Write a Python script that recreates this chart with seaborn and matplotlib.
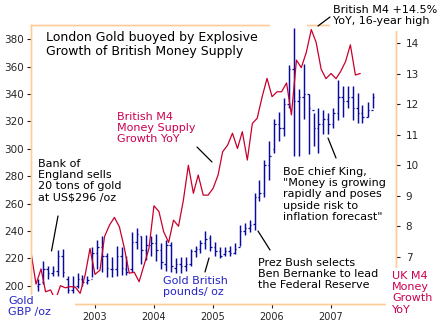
import numpy as np
import pandas as pd
import matplotlib
matplotlib.use("Agg")
import matplotlib.pyplot as plt
import matplotlib.dates as mdates
from matplotlib.patches import Rectangle
from matplotlib.lines import Line2D
import seaborn as sns

# ---------------- data ----------------
# UK M4 money supply growth, % YoY, monthly from Dec 2001
m4_start = "2001-12-01"
m4_growth = [7.14, 6.10, 6.60, 5.85, 5.91, 5.58, 6.05, 5.98, 6.02, 6.00, 5.80, 6.40,
             7.27, 6.42, 6.56, 7.66, 8.04, 8.29, 7.98, 7.30, 6.46, 6.49, 6.18, 6.73,
             7.27, 8.67, 8.48, 7.82, 7.47, 8.20, 8.00, 8.85, 10.00, 9.08, 9.68, 9.02,
             9.02, 9.24, 9.68, 10.44, 10.66, 11.05, 10.55, 11.10, 10.17, 11.37, 11.54, 12.25,
             12.85, 12.25, 12.41, 12.41, 12.70, 11.65, 13.45, 13.20, 13.70, 14.45, 14.03, 13.15,
             12.84, 13.01, 12.84, 13.07, 13.40, 13.95, 12.96, 13.01]

# Gold in British pounds per oz, monthly OHLC from Jan 2002
gold_start = "2002-01-01"
gold_open = [200, 203, 212, 209, 211, 222, 205, 197, 200, 205, 203, 205,
             224, 228, 222, 212, 212, 222, 212, 212, 232, 236, 226, 230,
             231, 226, 216, 230, 213, 216, 214, 216, 225, 227, 231, 235,
             228, 225, 223, 225, 224, 228, 240, 242, 245, 265, 268, 288,
             300, 318, 315, 333, 358, 335, 338, 340, 328, 315, 318, 322,
             318, 326, 338, 335, 338, 330, 326, 323, 328]
gold_high = [205, 218, 214, 214, 226, 227, 207, 207, 209, 208, 207, 228,
             233, 236, 224, 221, 229, 228, 222, 239, 242, 236, 237, 236,
             238, 231, 233, 232, 220, 221, 221, 227, 229, 233, 240, 237,
             232, 228, 228, 229, 231, 244, 246, 248, 268, 277, 292, 306,
             322, 327, 337, 361, 388, 344, 362, 340, 326, 330, 328, 326,
             330, 350, 346, 346, 346, 341, 332, 334, 341]
gold_low = [196, 201, 205, 207, 207, 206, 195, 195, 198, 200, 201, 206,
            212, 210, 206, 206, 207, 208, 208, 210, 227, 216, 219, 222,
            218, 212, 211, 210, 209, 209, 211, 214, 221, 224, 227, 225,
            222, 220, 222, 222, 223, 229, 237, 239, 241, 262, 265, 277,
            297, 306, 309, 330, 295, 295, 322, 296, 302, 297, 311, 311,
            315, 321, 323, 330, 321, 319, 319, 323, 330]
gold_close = [201, 212, 209, 211, 222, 210, 197, 200, 205, 203, 204, 224,
              228, 222, 213, 212, 222, 213, 210, 232, 238, 226, 230, 231,
              226, 217, 230, 214, 216, 214, 216, 225, 227, 231, 234, 228,
              225, 222, 225, 224, 227, 240, 242, 244, 265, 268, 288, 295,
              318, 315, 333, 358, 335, 338, 340, 330, 315, 318, 322, 318,
              326, 338, 335, 338, 330, 326, 323, 328, 338]

year_ticks = ["2003", "2004", "2005", "2006", "2007"]
left_ticks = [200, 220, 240, 260, 280, 300, 320, 340, 360, 380]
right_ticks = [7, 8, 9, 10, 11, 12, 13, 14]

# ---------------- style ----------------
sns.set_style("white")
plt.rcParams["font.family"] = ["DejaVu Sans"]

W, H = 440, 335
BLUE = "#0a0a9e"
RED = "#c8002d"
MAG = "#cc0050"
BLUE_TXT = "#2424c8"
SPINE = "#ffcc99"

fig = plt.figure(figsize=(W / 100, H / 100), dpi=100)
fig.patch.set_facecolor("white")
ax = fig.add_axes([31 / W, 1 - 304 / H, 365 / W, 279 / H])
ax2 = ax.twinx()

m4_x = mdates.date2num(pd.date_range(m4_start, periods=len(m4_growth), freq="MS"))
g_dates = pd.date_range(gold_start, periods=len(gold_open), freq="MS") + pd.Timedelta(days=14)
g_x = mdates.date2num(g_dates)
tick_len = 10

# gold OHLC bars
ax.vlines(g_x, gold_low, gold_high, color=BLUE, linewidth=1.05)
ax.hlines(gold_open, g_x - tick_len, g_x, color=BLUE, linewidth=0.9)
ax.hlines(gold_close, g_x, g_x + tick_len, color=BLUE, linewidth=0.9)

# M4 growth line
df_m4 = pd.DataFrame({"x": m4_x, "m4": m4_growth})
sns.lineplot(data=df_m4, x="x", y="m4", ax=ax2, color=RED, linewidth=0.9)
ax2.set_xlabel("")
ax2.set_ylabel("")

# axes limits & ticks
x2003 = mdates.date2num(pd.Timestamp("2003-01-01"))
x2007 = mdates.date2num(pd.Timestamp("2007-01-01"))
ppd = (331 - 95) / (x2007 - x2003)
ax.set_xlim(x2003 - 64 / ppd, x2007 + 65 / ppd)
ax.set_ylim(186.6, 390.45)
ax2.set_ylim(5.449, 14.60)

ax.set_xticks([mdates.date2num(pd.Timestamp(y + "-01-01")) for y in year_ticks])
ax.set_xticklabels(year_ticks)
ax.set_yticks(left_ticks)
ax.set_yticklabels([str(v) for v in left_ticks])
ax2.set_yticks(right_ticks)
ax2.set_yticklabels([str(v) for v in right_ticks])

ax.tick_params(axis="x", direction="out", length=3, width=0.8, color="#222222",
               labelsize=7, pad=3, bottom=True)
ax.tick_params(axis="y", direction="out", length=3, width=0.8, color="#222222",
               labelsize=7.5, pad=2, left=True, right=False)
ax2.tick_params(axis="y", direction="out", length=3, width=0.8, color="#222222",
                labelsize=7.5, pad=4, right=True, left=False)

for a in (ax, ax2):
    for s in a.spines.values():
        s.set_color(SPINE)
        s.set_linewidth(1.0)
ax.set_facecolor("none")
ax2.set_facecolor("none")


def px(x, y):
    return x / W, 1 - y / H


def white_box(x0, y0, x1, y1):
    fig.patches.append(Rectangle(px(x0, y1), (x1 - x0) / W, (y1 - y0) / H,
                                 transform=fig.transFigure, facecolor="white",
                                 edgecolor="none", zorder=1))


def leader(x0, y0, x1, y1):
    fig.lines.append(Line2D([x0 / W, x1 / W], [1 - y0 / H, 1 - y1 / H],
                            transform=fig.transFigure, color="black",
                            linewidth=0.9, zorder=2))


# white boxes behind corner labels
white_box(0, 295, 75, 335)
white_box(386, 268, 440, 335)
white_box(330, 0, 440, 31)
white_box(270, 22, 307, 28)

# texts
fig.text(*px(46, 31.5), "London Gold buoyed by Explosive\nGrowth of British Money Supply",
         ha="left", va="top", fontsize=9, color="black", linespacing=1.05)
fig.text(*px(117, 112), "British M4\nMoney Supply\nGrowth YoY",
         ha="left", va="top", fontsize=8, color=MAG, linespacing=1.15)
leader(197, 147, 212, 162)
fig.text(*px(38, 159), "Bank of\nEngland sells\n20 tons of gold\nat US$296 /oz",
         ha="left", va="top", fontsize=8, color="black", linespacing=1.15)
leader(58, 216, 51.5, 251)
fig.text(*px(163, 276), "Gold British\npounds/ oz",
         ha="left", va="top", fontsize=8, color=BLUE_TXT, linespacing=1.15)
leader(205, 272, 209, 258)
fig.text(*px(258, 258), "Prez Bush selects\nBen Bernanke to lead\nthe Federal Reserve",
         ha="left", va="top", fontsize=8, color="black", linespacing=1.15)
leader(258, 231, 270, 250)
fig.text(*px(283, 167), "BoE chief King,\n\"Money is growing\nrapidly and poses\nupside risk to\ninflation forecast\"",
         ha="left", va="top", fontsize=8, color="black", linespacing=1.15)
leader(328, 138, 336, 158)
fig.text(*px(333, 5), "British M4 +14.5%\nYoY, 16-year high",
         ha="left", va="top", fontsize=8, color="black", linespacing=1.15, zorder=3)
leader(330, 17, 318, 26)
fig.text(*px(8, 296), "Gold\nGBP /oz",
         ha="left", va="top", fontsize=8, color=BLUE_TXT, linespacing=1.15, zorder=3)
fig.text(*px(392, 271), "UK M4\nMoney\nGrowth\nYoY",
         ha="left", va="top", fontsize=8, color=MAG, linespacing=1.15, zorder=3)

fig.savefig("out.png", dpi=100, facecolor="white")
